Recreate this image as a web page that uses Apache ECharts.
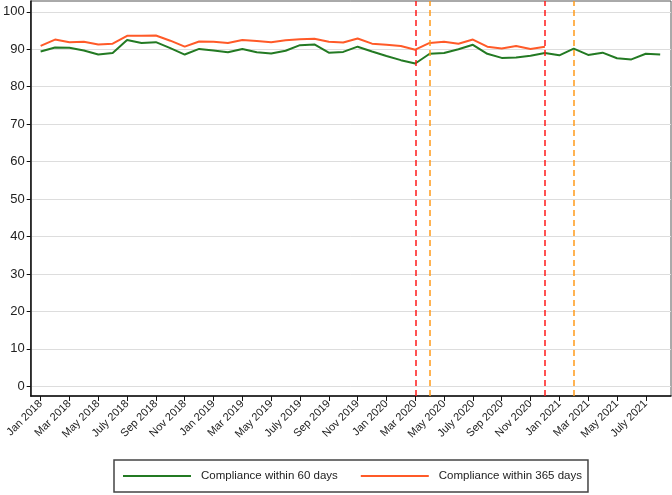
<!DOCTYPE html>
<html>
<head>
<meta charset="utf-8">
<script src="https://cdn.jsdelivr.net/npm/echarts@6/dist/echarts.min.js"></script>
<style>
  html, body { margin: 0; padding: 0; background: #fff; }
  #chart { width: 672px; height: 495px; }
</style>
</head>
<body>
<div id="chart"></div>
<script>
// monthly, Jan 2018 .. Aug 2021 (index 0 = Jan 2018)
const within60 = [
  89.4, 90.5, 90.4, 89.7, 88.6, 89.0, 92.5, 91.7, 91.9, 90.3,
  88.6, 90.1, 89.7, 89.2, 90.1, 89.2, 88.9, 89.6, 91.1, 91.3,
  89.1, 89.3, 90.7, 89.4, 88.2, 87.1, 86.2, 88.8, 89.0, 90.0,
  91.2, 88.8, 87.7, 87.8, 88.3, 89.0, 88.4, 90.2, 88.5, 89.1,
  87.6, 87.3, 88.8, 88.6
];
// Jan 2018 .. Dec 2020
const within365 = [
  90.9, 92.6, 91.9, 92.0, 91.3, 91.5, 93.6, 93.6, 93.7, 92.3,
  90.7, 92.1, 92.0, 91.7, 92.5, 92.2, 91.9, 92.4, 92.7, 92.8,
  92.0, 91.8, 92.9, 91.5, 91.2, 90.9, 89.9, 91.7, 92.0, 91.5,
  92.6, 90.7, 90.2, 90.9, 90.1, 90.7
];
const monthLabels = [
  "Jan 2018", "Mar 2018", "May 2018", "July 2018", "Sep 2018", "Nov 2018",
  "Jan 2019", "Mar 2019", "May 2019", "July 2019", "Sep 2019", "Nov 2019",
  "Jan 2020", "Mar 2020", "May 2020", "July 2020", "Sep 2020", "Nov 2020",
  "Jan 2021", "Mar 2021", "May 2021", "July 2021"
];
const labelIdx = monthLabels.map((m, i) => i * 2);
const yTicks = [0, 10, 20, 30, 40, 50, 60, 70, 80, 90, 100];
const redLines = [26, 35];     // Mar 2020, Dec 2020
const orangeLines = [27, 37];  // Apr 2020, Feb 2021

const myChart = echarts.init(document.getElementById("chart"));

const dashed = (xs, color) => ({
  silent: true,
  symbol: "none",
  label: { show: false },
  lineStyle: { color: color, type: [6, 4], width: 1.5 },
  data: xs.map(x => ({ xAxis: x }))
});

myChart.setOption({
  animation: false,
  textStyle: { fontFamily: "Liberation Sans, Arial, sans-serif" },
  grid: {
    left: 27,
    top: 1,
    right: 1,
    bottom: 99,
    show: true,
    borderColor: "#555",
    borderWidth: 1
  },
  legend: {
    orient: "horizontal",
    top: 460,
    left: 114,
    itemWidth: 68,
    itemHeight: 2,
    itemGap: 22,
    padding: [10, 6, 10, 8],
    borderColor: "#444",
    borderWidth: 1.5,
    textStyle: { fontSize: 11.5, color: "#222", padding: [0, 0, 0, 5] },
    data: ["Compliance within 60 days", "Compliance within 365 days"]
  },
  xAxis: {
    type: "value",
    min: -0.69,
    max: 43.75,
    axisLine: { show: true, onZero: false, lineStyle: { color: "#111", width: 1.5 } },
    axisTick: { show: true, customValues: labelIdx, length: 5, lineStyle: { color: "#111" } },
    axisLabel: {
      customValues: labelIdx,
      rotate: 45,
      fontSize: 11,
      color: "#222",
      margin: 6,
      formatter: v => monthLabels[Math.round(v / 2)]
    },
    splitLine: { show: false }
  },
  yAxis: {
    type: "value",
    min: -2.6,
    max: 102.9,
    axisLine: { show: true, onZero: false, lineStyle: { color: "#111", width: 1.5 } },
    axisTick: { show: true, customValues: yTicks, length: 4, lineStyle: { color: "#111" } },
    axisLabel: { customValues: yTicks, fontSize: 13, color: "#222", margin: 6 },
    splitLine: { show: true, lineStyle: { color: "#dddddd", width: 1 } }
  },
  series: [
    {
      name: "Compliance within 60 days",
      type: "line",
      symbol: "none",
      lineStyle: { color: "#237a23", width: 2 },
      itemStyle: { color: "#237a23" },
      data: within60.map((v, i) => [i, v]),
      markLine: dashed(redLines, "#ff1a1a")
    },
    {
      name: "Compliance within 365 days",
      type: "line",
      symbol: "none",
      lineStyle: { color: "#ff5a28", width: 2 },
      itemStyle: { color: "#ff5a28" },
      data: within365.map((v, i) => [i, v]),
      markLine: dashed(orangeLines, "#ff9a1a")
    }
  ]
});
</script>
</body>
</html>
